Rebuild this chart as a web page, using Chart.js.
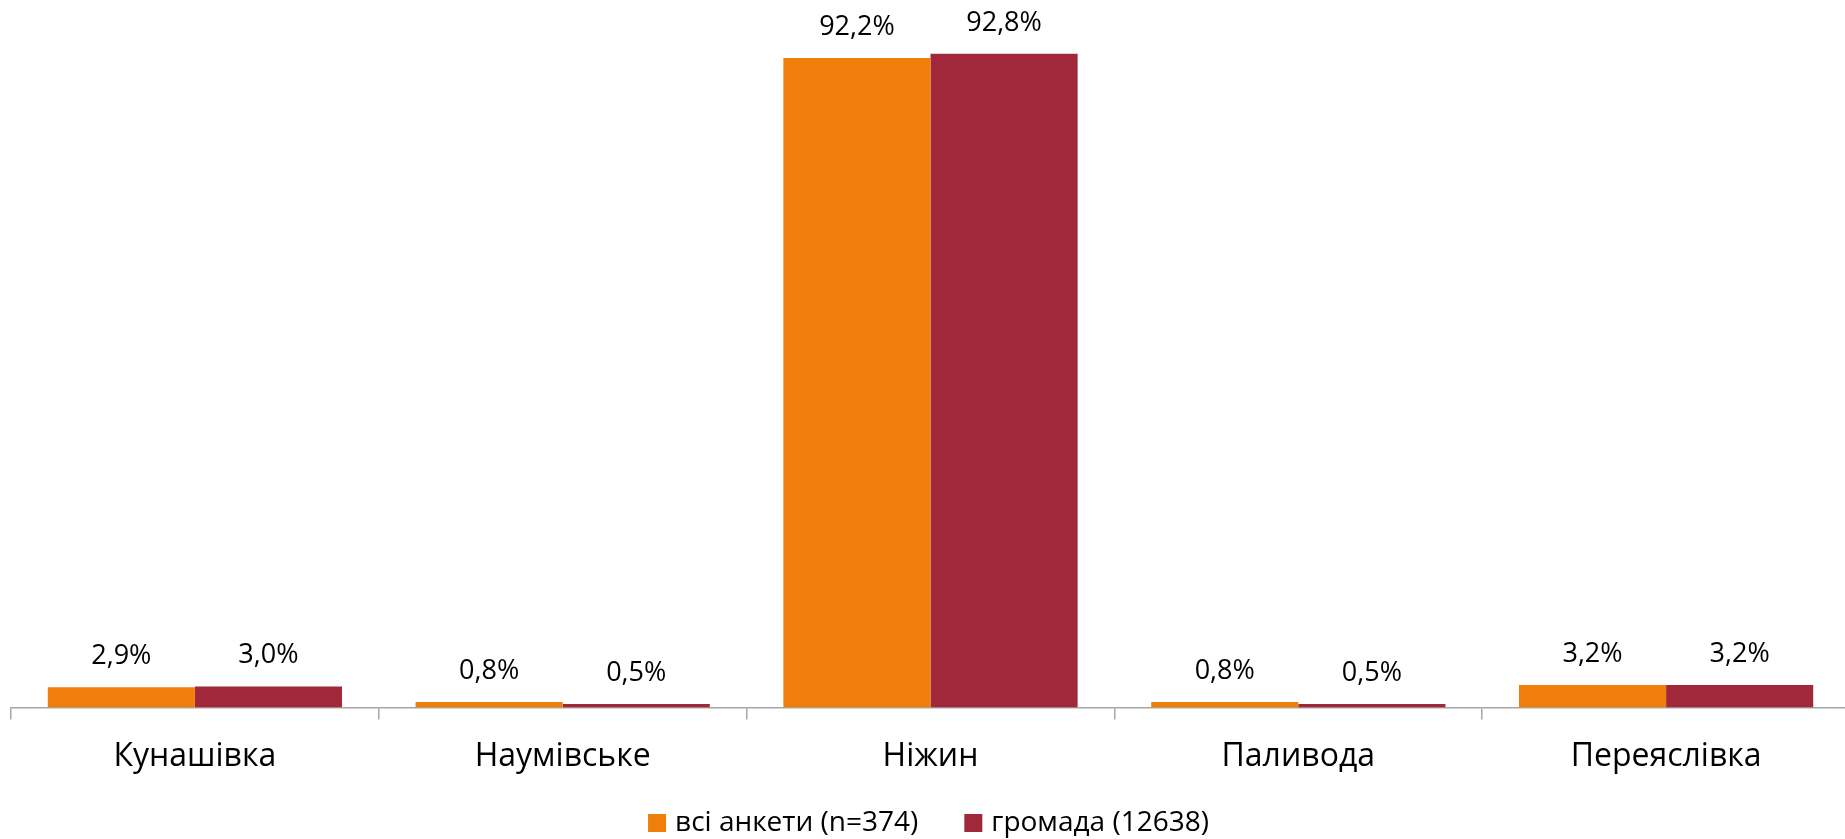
<!DOCTYPE html>
<html>
<head>
<meta charset="utf-8">
<script src="https://cdn.jsdelivr.net/npm/chart.js@4/dist/chart.umd.min.js"></script>
<style>
  html, body { margin: 0; padding: 0; background: #ffffff; overflow: hidden; }
  #wrap { width: 1845px; height: 839px; position: relative; overflow: hidden; }
  #c { display: block; }
</style>
</head>
<body>
<div id="wrap"><canvas id="c" width="1850" height="839"></canvas></div>
<script>
const categories = ["Кунашівка", "Наумівське", "Ніжин", "Паливода", "Переяслівка"];
const seriesNames = ["всі анкети (n=374)", "громада (12638)"];
const allSurveys = [2.9, 0.8, 92.2, 0.8, 3.2];
const community = [3.0, 0.5, 92.8, 0.5, 3.2];
const seriesColors = ["#EF7F0A", "#A0283A"];

const FONT = "'Open Sans', 'Noto Sans', sans-serif";

const valueLabels = {
  id: 'valueLabels',
  afterDatasetsDraw(chart) {
    const ctx = chart.ctx;
    ctx.save();
    ctx.font = "27px " + FONT;
    ctx.fillStyle = "#000000";
    ctx.textAlign = "center";
    ctx.textBaseline = "alphabetic";
    chart.data.datasets.forEach((ds, di) => {
      const meta = chart.getDatasetMeta(di);
      meta.data.forEach((el, i) => {
        const txt = ds.data[i].toFixed(1).replace('.', ',') + '%';
        ctx.fillText(txt, el.x, el.y - 23);
      });
    });
    ctx.restore();
  }
};

const customLegend = {
  id: 'customLegend',
  afterDraw(chart) {
    const ctx = chart.ctx;
    ctx.save();
    ctx.font = "28px " + FONT;
    ctx.textBaseline = "middle";
    ctx.textAlign = "left";
    const box = 18, gap = 9, spacing = 46;
    const items = chart.data.datasets.map(ds => ({
      label: ds.label, color: ds.backgroundColor, w: ctx.measureText(ds.label).width
    }));
    let total = 0;
    items.forEach((it, i) => { total += box + gap + it.w + (i < items.length - 1 ? spacing : 0); });
    const cx = (chart.chartArea.left + chart.chartArea.right) / 2 - 2;
    let x = cx - total / 2;
    const cy = 823;
    items.forEach(it => {
      ctx.fillStyle = it.color;
      ctx.fillRect(x, cy - box / 2, box, box);
      ctx.fillStyle = "#000000";
      ctx.fillText(it.label, x + box + gap, cy);
      x += box + gap + it.w + spacing;
    });
    ctx.restore();
  }
};

new Chart(document.getElementById('c'), {
  type: 'bar',
  data: {
    labels: categories,
    datasets: [
      { label: seriesNames[0], data: allSurveys, backgroundColor: seriesColors[0], categoryPercentage: 0.8, barPercentage: 1.0 },
      { label: seriesNames[1], data: community, backgroundColor: seriesColors[1], categoryPercentage: 0.8, barPercentage: 1.0 }
    ]
  },
  options: {
    responsive: false,
    animation: false,
    devicePixelRatio: 1,
    layout: { padding: { top: 3, left: 11, right: 0, bottom: 45 } },
    plugins: {
      legend: { display: false },
      tooltip: { enabled: false }
    },
    scales: {
      x: {
        grid: { offset: true, drawOnChartArea: false, drawTicks: true, tickLength: 12, color: '#A6A6A6', lineWidth: 1.5 },
        border: { display: true, color: '#A6A6A6', width: 1.5 },
        ticks: { color: '#000000', font: { family: FONT, size: 32 }, padding: 18, maxRotation: 0 }
      },
      y: {
        display: false,
        min: 0,
        max: 100
      }
    }
  },
  plugins: [valueLabels, customLegend]
});
</script>
</body>
</html>
